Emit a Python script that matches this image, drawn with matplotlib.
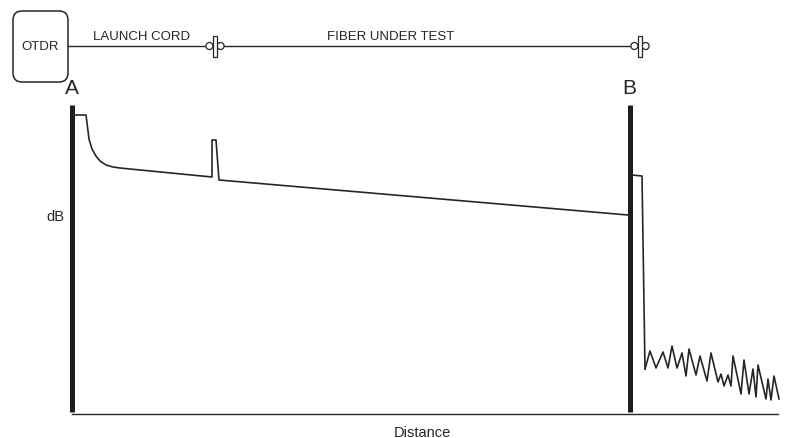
import matplotlib
matplotlib.use('Agg')
import matplotlib.pyplot as plt
from matplotlib.patches import FancyBboxPatch, Rectangle, Circle

plt.rcParams['font.family'] = ['Liberation Sans', 'DejaVu Sans']

# trace (distance, dB) in picture units, y grows downward
trace_x = [72, 86, 89, 92, 96, 100, 106, 113, 120, 130, 212, 212, 216, 219, 628]
trace_y = [116, 116, 140, 150, 157, 162, 166, 168, 169, 170, 178, 141, 141, 181, 216]

end_x = [632, 642, 645]
end_y = [176, 177, 370]

noise_x = [645, 650, 656, 663, 668, 672, 677, 682, 686, 689, 696, 700, 707, 711,
           718, 721, 724, 728, 731, 733, 741, 744, 749, 753, 756, 758, 766, 768,
           771, 774, 779]
noise_y = [370, 352, 369, 353, 369, 347, 369, 354, 377, 350, 376, 357, 382, 354,
           383, 375, 387, 376, 387, 357, 395, 361, 395, 370, 398, 366, 400, 380,
           401, 377, 400]

event_x = [72.5, 630]
event_labels = ['A', 'B']
connector_x = [215, 640]
segment_labels = ['LAUNCH CORD', 'FIBER UNDER TEST']
segment_label_x = [142, 391]

ink = '#262626'

fig = plt.figure(figsize=(8.04, 4.39), dpi=100)
ax = fig.add_axes([0, 0, 1, 1])
ax.set_xlim(0, 804)
ax.set_ylim(439, 0)
ax.axis('off')

# cable diagram on top
ax.add_patch(FancyBboxPatch((13, 12), 55, 71, boxstyle='round,pad=0,rounding_size=9',
                            fc='white', ec=ink, lw=1.1))
ax.text(40.5, 47, 'OTDR', ha='center', va='center', fontsize=9.5, color=ink)
ax.plot([68, connector_x[-1] - 5], [47, 47], color=ink, lw=1.0)
for cx in connector_x:
    ax.add_patch(Circle((cx - 5.6, 47), 3.5, fc='white', ec=ink, lw=0.9, zorder=3))
    ax.add_patch(Circle((cx + 5.6, 47), 3.5, fc='white', ec=ink, lw=0.9, zorder=3))
    ax.add_patch(Rectangle((cx - 2.2, 37), 4.4, 21, fc='white', ec=ink, lw=0.9, zorder=4))
for lx, lab in zip(segment_label_x, segment_labels):
    ax.text(lx, 37, lab, ha='center', va='center', fontsize=9.5, color=ink)

# event markers
for ex, lab in zip(event_x, event_labels):
    ax.plot([ex, ex], [106, 413], color='#1e1e1e', lw=3.6, solid_capstyle='butt')
    ax.text(ex - 1, 89, lab, ha='center', va='center', fontsize=15, color=ink)

# trace
ax.plot(trace_x, trace_y, color=ink, lw=1.2)
ax.plot(end_x, end_y, color=ink, lw=1.2)
ax.plot(noise_x, noise_y, color=ink, lw=1.2)

# axis line and labels
ax.plot([72, 778], [415.5, 415.5], color=ink, lw=1.0)
ax.text(422, 433, 'Distance', ha='center', va='center', fontsize=10.5, color=ink)
ax.text(55, 217, 'dB', ha='center', va='center', fontsize=10.5, color=ink)

fig.savefig('out.png', dpi=100)
